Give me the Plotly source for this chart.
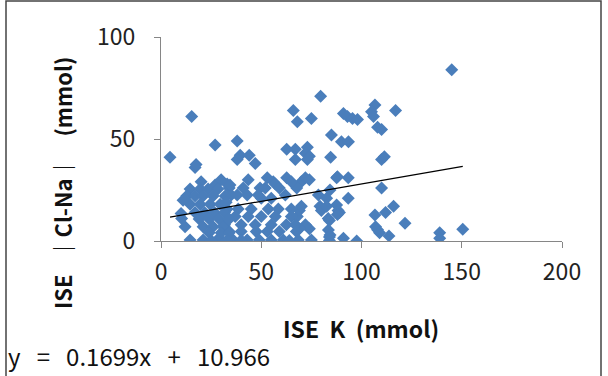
import plotly.graph_objects as go

# ISE K (mmol)
x_vals = [
    4.5, 15.3, 17, 17.5, 27, 38, 39.5, 38, 44, 47,
    66, 68, 75, 79.6, 62.7, 67, 67, 73, 72, 74, 73,
    85, 84.6, 90, 93.5, 91, 93, 95.5, 98,
    145, 106.7, 105, 106, 117, 108, 110, 110, 111.4,
    93.4, 110, 93.4, 89, 116, 112, 106.7, 121.7, 107, 108, 109, 113.7, 91, 97.6, 139, 139, 150.5,
    70, 72, 74, 87.6, 88, 67.7, 78.5, 82.6, 84.3, 68, 69, 70, 79.3, 80, 87.6, 88.3, 83.4,
    72, 74, 69, 83.5, 84.3, 68.5, 75,
    43.5, 56, 57, 62.7, 65, 34, 41, 49.4, 52, 59,
    35, 38, 43, 48.5, 50, 55, 62,
    33, 38.5, 45, 53.5, 58.5, 65,
    37, 43.5, 50, 57, 65,
    31.7, 40, 47, 55, 62.5, 67,
    34, 40, 47.5, 53, 59, 67.5,
    30, 36, 43, 49, 55, 61,
    20, 27, 30, 33, 14.5, 19.5, 23.5, 28.4,
    12.8, 17, 21, 26, 32,
    14.5, 19.5, 24.5, 29.5, 32.5,
    17, 21.7, 26.7, 31.7,
    19, 24, 29, 34,
    21, 26, 31,
    24, 30, 34,
    14.5, 21, 28, 33,
    25, 40, 64, 84,
    11, 10.3, 12, 10,
    82.6, 84, 84, 88, 53, 34.4,
]
# ISE |Cl-Na| (mmol)
y_vals = [
    41, 61, 36, 37.5, 47, 49, 42, 40, 42, 38,
    64, 58.5, 60, 71, 45, 45, 40, 46, 43, 41.5, 40,
    52, 41, 48.7, 48.7, 62.5, 61, 60, 59.5,
    84, 66.7, 63.4, 61, 64, 55.7, 54.7, 40, 41.3,
    31, 26, 21, 14, 17, 14, 12.7, 8.7, 7, 5.5, 4, 2.5, 1.3, 0, 4, 1.3, 5.7,
    29, 31, 30, 31, 31.5, 26, 22.5, 21, 25, 12, 15, 17, 17, 15, 17.6, 15, 11,
    8, 6, 6, 5.4, 3, 0.5, 0.5,
    30, 29, 28, 31, 29, 26, 26, 26, 26, 26,
    22.5, 22.5, 22.5, 22.5, 21, 21, 22.5,
    15.7, 15.7, 15.7, 15.7, 15.7, 15.7,
    12, 12, 12, 12, 12,
    8, 8, 8, 8, 8, 8,
    4.6, 4.6, 4.6, 4.6, 4.6, 4.6,
    0.5, 0.5, 0.5, 0.5, 0.5, 0.5,
    29, 27.5, 30, 28, 25.5, 25.5, 25.5, 25.5,
    22, 22, 22, 22, 22,
    18, 18, 18, 18, 19,
    14, 14, 14, 14,
    10.8, 10.8, 10.8, 10.8,
    7, 7, 7,
    4, 4, 4,
    0.5, 0.5, 0.5, 0.5,
    0.3, 0.4, 0.3, 0.3,
    20, 11, 7, 13.5,
    17, 10, 2, 13, 31, 27.5,
]

slope = 0.1699
intercept = 10.966
x_ticks = [0, 50, 100, 150, 200]
y_ticks = [0, 50, 100]
eq_text = "y&nbsp;&nbsp; =&nbsp;&nbsp; 0.1699x&nbsp;&nbsp; +&nbsp;&nbsp; 10.966"
x_title = "ISE&nbsp; K&nbsp; (mmol)"
y_title = "ISE&nbsp;&nbsp; ｜Cl-Na｜&nbsp;&nbsp;&nbsp; (mmol)"

x_line = [min(x_vals), max(x_vals)]
y_line = [slope * v + intercept for v in x_line]

fig = go.Figure()
fig.add_trace(go.Scatter(
    x=x_vals, y=y_vals, mode="markers",
    marker=dict(symbol="diamond", size=10, color="#4A7EBB", line=dict(width=0)),
    showlegend=False,
))
fig.add_trace(go.Scatter(
    x=x_line, y=y_line, mode="lines",
    line=dict(color="black", width=1.3), showlegend=False,
))

W, H = 608, 376
L, R, T, B = 161, 46, 37, 135
pw, ph = W - L - R, H - T - B

def px(xp):
    return (xp - L) / pw

def py(yp):
    return (H - B - yp) / ph

FONT = "Noto Sans CJK KR, Malgun Gothic, sans-serif"
axis_font = dict(family=FONT, size=23, color="#222")

fig.update_layout(
    width=W, height=H,
    margin=dict(l=L, r=R, t=T, b=B),
    paper_bgcolor="white", plot_bgcolor="white",
    xaxis=dict(range=[0, 200], tickvals=x_ticks, showgrid=False, zeroline=False,
               showline=True, linecolor="#868686", linewidth=1.3,
               ticks="outside", ticklen=6, tickcolor="#868686", tickwidth=1.3,
               tickfont=axis_font, ticklabelstandoff=4),
    yaxis=dict(range=[0, 100], tickvals=y_ticks, showgrid=False, zeroline=False,
               showline=True, linecolor="#868686", linewidth=1.3,
               ticks="outside", ticklen=6, tickcolor="#868686", tickwidth=1.3,
               tickfont=axis_font, ticklabelstandoff=14),
    shapes=[dict(type="rect", xref="paper", yref="paper",
                 x0=px(6), x1=px(601), y0=py(385), y1=py(1),
                 line=dict(color="#444", width=1.5))],
    annotations=[
        dict(text="<b>" + x_title + "</b>", xref="paper", yref="paper",
             x=px(361), y=py(328), xanchor="center", yanchor="middle", showarrow=False,
             font=dict(family=FONT, size=23, color="#111")),
        dict(text="<b>" + y_title + "</b>", xref="paper", yref="paper",
             x=px(62), y=py(183), xanchor="center", yanchor="middle", showarrow=False,
             textangle=-90,
             font=dict(family=FONT, size=22, color="#111")),
        dict(text=eq_text, xref="paper", yref="paper", x=px(6), y=py(355),
             xanchor="left", yanchor="middle", showarrow=False,
             font=dict(family=FONT, size=24, color="#111")),
    ],
)

fig.write_html("out.html", config={"displayModeBar": False},
               post_script="document.body.style.margin='0';document.body.style.padding='0';")
